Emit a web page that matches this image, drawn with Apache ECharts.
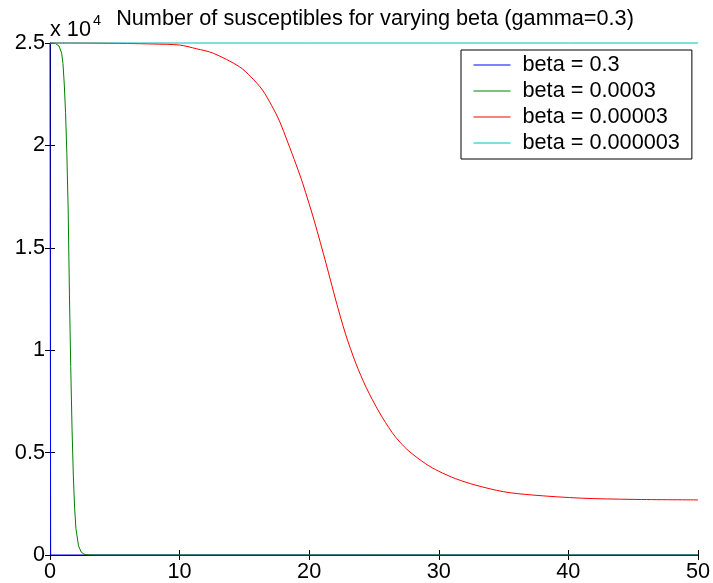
<!DOCTYPE html>
<html>
<head>
<meta charset="utf-8">
<script src="https://cdn.jsdelivr.net/npm/echarts@6/dist/echarts.min.js"></script>
<style>
html,body{margin:0;padding:0;background:#fff;}
#chart{width:713px;height:583px;}
</style>
</head>
<body>
<div id="chart"></div>
<script>
// ---- data ----
var seriesNames = ['beta = 0.3', 'beta = 0.0003', 'beta = 0.00003', 'beta = 0.000003'];
var seriesColors = ['#0000ff', '#008000', '#ff0000', '#00bfbf'];

var tBlue = [0, 0.05, 50];
var sBlue = [25000, 0, 0];

var tGreen = [0, 0.4, 0.7, 0.9, 1.0, 1.1, 1.2, 1.3, 1.4, 1.5, 1.6, 1.7, 1.8, 1.9, 2.0, 2.2, 2.4, 2.6, 2.8, 3.0, 3.5, 50];
var sGreen = [25000, 24980, 24850, 24500, 24000, 23000, 21600, 19600, 16900, 12700, 9200, 6200, 3900, 2300, 1300, 450, 150, 50, 15, 5, 0, 0];

var tRed = [0, 3, 6, 8, 10, 11.3, 12.6, 14.6, 15.5, 16.4, 17.1, 17.7, 18.35, 19.0, 19.5, 20.4, 21.3, 22.05, 22.8, 23.6, 24.4, 25.4, 26.4, 27.0, 27.7, 29.0, 30, 31.3, 32.8, 35, 37.2, 41, 45, 50];
var sRed = [25000, 24995, 24975, 24950, 24900, 24720, 24500, 23850, 23350, 22700, 21950, 21200, 20150, 19050, 18150, 16300, 14240, 12450, 10800, 9360, 8180, 6980, 5980, 5515, 5070, 4450, 4090, 3726, 3419, 3090, 2930, 2775, 2715, 2690];

var tCyan = [0, 10, 20, 30, 40, 50];
var sCyan = [25000, 25000, 25000, 25000, 25000, 25000];

var xTickLabels = ['0', '10', '20', '30', '40', '50'];
var yTickLabels = ['0', '0.5', '1', '1.5', '2', '2.5'];
var titleText = 'Number of susceptibles for varying beta (gamma=0.3)';

// ---- build ----
function zip(t, s) { return t.map(function (v, i) { return [v, s[i]]; }); }
var allT = [tBlue, tGreen, tRed, tCyan];
var allS = [sBlue, sGreen, sRed, sCyan];

var FONT = 'Liberation Sans, Arial, sans-serif';
var FS = 21.7;

var series = seriesNames.map(function (name, i) {
  return {
    name: name,
    type: 'line',
    data: zip(allT[i], allS[i]),
    showSymbol: false,
    symbol: 'none',
    clip: false,
    smooth: i === 2 ? 0.3 : false,
    lineStyle: { color: seriesColors[i], width: 1 },
    itemStyle: { color: seriesColors[i] },
    xAxisIndex: 0,
    yAxisIndex: 0,
    animation: false,
    z: 3
  };
});

var tickStyle = { show: true, inside: true, length: 5, lineStyle: { color: '#000', width: 1 } };
var lineStyle = { show: true, lineStyle: { color: '#000', width: 1 } };

var option = {
  backgroundColor: '#fff',
  animation: false,
  title: {
    text: titleText,
    left: 375,
    top: 8,
    textAlign: 'center',
    padding: 0,
    textStyle: { fontFamily: FONT, fontSize: FS, fontWeight: 'normal', color: '#000' }
  },
  graphic: [
    { type: 'text', left: 50, top: 19, style: { text: 'x 10', fontFamily: FONT, fontSize: FS, fill: '#000' } },
    { type: 'text', left: 93, top: 13, style: { text: '4', fontFamily: FONT, fontSize: 14.5, fill: '#000' } }
  ],
  legend: {
    orient: 'vertical',
    left: 461,
    top: 50,
    padding: [4, 12, 5, 12],
    itemGap: 4,
    itemWidth: 37,
    itemHeight: 21,
    itemStyle: { opacity: 0 },
    lineStyle: { width: 1 },
    backgroundColor: '#fff',
    borderColor: '#000',
    borderWidth: 1,
    borderRadius: 0,
    selectedMode: false,
    data: seriesNames,
    textStyle: { fontFamily: FONT, fontSize: FS, color: '#000', lineHeight: 21, padding: [0, 0, 0, 7] }
  },
  grid: { left: 50, right: 13, top: 43, bottom: 28, containLabel: false },
  xAxis: [
    {
      type: 'value', min: 0, max: 50, interval: 10, position: 'bottom',
      axisLine: lineStyle, axisTick: tickStyle, splitLine: { show: false },
      axisLabel: {
        margin: 6, fontFamily: FONT, fontSize: FS, color: '#000',
        formatter: function (v) { return xTickLabels[Math.round(v / 10)]; }
      }
    },
    {
      type: 'value', min: 0, max: 50, interval: 10, position: 'top',
      axisLine: lineStyle, axisTick: tickStyle, splitLine: { show: false },
      axisLabel: { show: false }
    }
  ],
  yAxis: [
    {
      type: 'value', min: 0, max: 25000, interval: 5000, position: 'left',
      axisLine: lineStyle, axisTick: tickStyle, splitLine: { show: false },
      axisLabel: {
        margin: 5, fontFamily: FONT, fontSize: FS, color: '#000',
        formatter: function (v) { return yTickLabels[Math.round(v / 5000)]; }
      }
    },
    {
      type: 'value', min: 0, max: 25000, interval: 5000, position: 'right',
      axisLine: lineStyle, axisTick: tickStyle, splitLine: { show: false },
      axisLabel: { show: false }
    }
  ],
  series: series
};

var chart = echarts.init(document.getElementById('chart'), null, { renderer: 'canvas' });
chart.setOption(option);
</script>
</body>
</html>
